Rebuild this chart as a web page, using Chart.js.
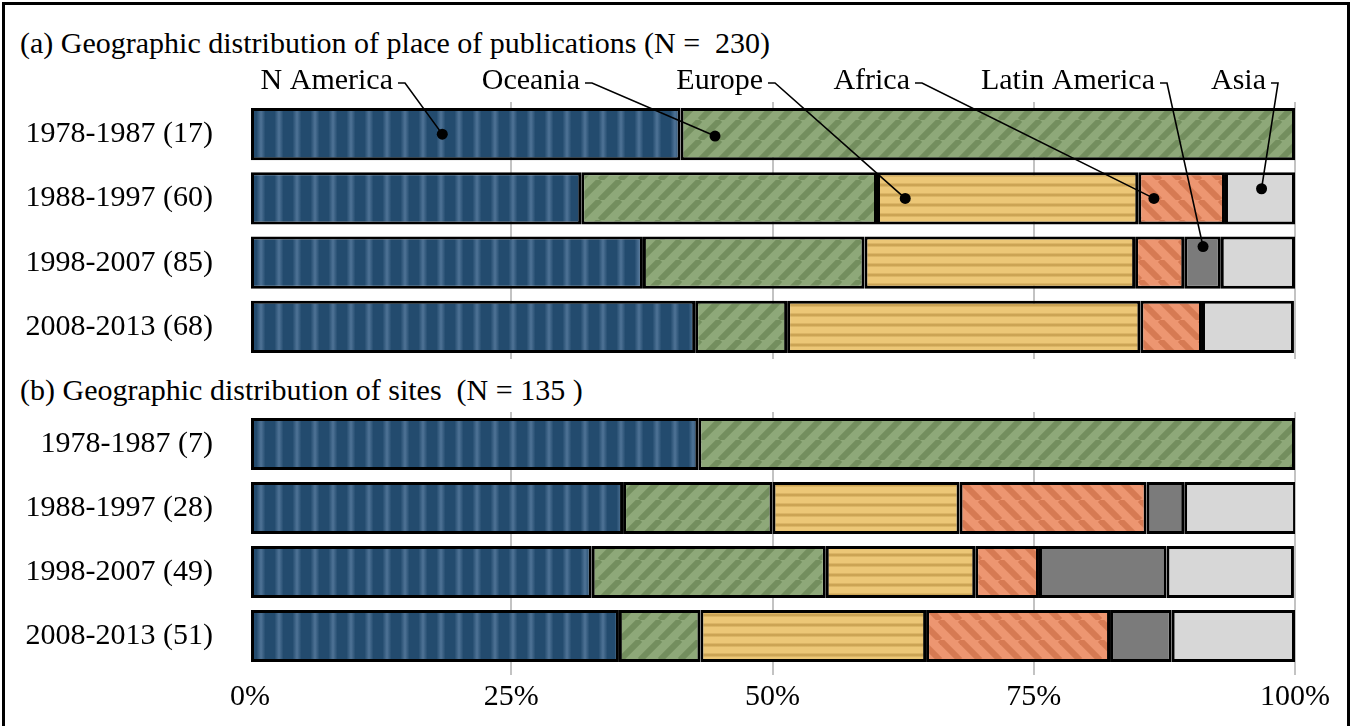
<!DOCTYPE html>
<html>
<head>
<meta charset="utf-8">
<script src="https://cdn.jsdelivr.net/npm/chart.js@4.4.1/dist/chart.umd.min.js"></script>
<style>
body { margin: 0; background: #fff; }
#wrap { position: relative; width: 1353px; height: 726px; overflow: hidden; }
#frame { position: absolute; left: 2px; top: 2px; width: 1342px; height: 740px; border: 3px solid #000; }
canvas { position: absolute; left: 0; top: 0; }
.ttl { position: absolute; font-family: "Liberation Serif", "Times New Roman", serif; font-size: 30px; color: #000; white-space: pre; line-height: 34px; }
</style>
</head>
<body>
<div id="wrap">
  <div id="frame"></div>
  <div class="ttl" style="left:20px;top:26px">(a) Geographic distribution of place of publications (N =  230)</div>
  <div class="ttl" style="left:20px;top:373px">(b) Geographic distribution of sites  (N = 135 )</div>
  <canvas id="chartA" width="1353" height="726"></canvas>
  <canvas id="chartB" width="1353" height="726"></canvas>
</div>
<script>
// categories
const regions = ['N America', 'Oceania', 'Europe', 'Africa', 'Latin America', 'Asia'];
const periodsPub = ['1978-1987 (17)', '1988-1997 (60)', '1998-2007 (85)', '2008-2013 (68)'];
const periodsSite = ['1978-1987 (7)', '1988-1997 (28)', '1998-2007 (49)', '2008-2013 (51)'];
const xTicks = [0, 25, 50, 75, 100];

// (a) place of publication, % of each period
const pubNAmerica = [41.2, 31.7, 37.6, 42.6];
const pubOceania  = [58.8, 28.3, 21.2, 8.8];
const pubEurope   = [0, 25.0, 25.9, 33.8];
const pubAfrica   = [0, 8.3, 4.7, 5.9];
const pubLatin    = [0, 0, 3.5, 0];
const pubAsia     = [0, 6.7, 7.1, 8.8];

// (b) sites, % of each period
const siteNAmerica = [42.9, 35.7, 32.7, 35.3];
const siteOceania  = [57.1, 14.3, 22.4, 7.8];
const siteEurope   = [0, 17.9, 14.3, 21.6];
const siteAfrica   = [0, 17.9, 6.1, 17.6];
const siteLatin    = [0, 3.6, 12.2, 5.9];
const siteAsia     = [0, 10.7, 12.2, 11.8];

// callouts in panel (a): where each region's dot sits (% value, row)
const calloutValue = [18.4, 44.5, 62.7, 86.5, 91.2, 96.8];
const calloutRow   = [0, 0, 1, 1, 2, 1];
const calloutShift = [0, 0.03, 0, 0, -0.25, -0.15];

const FONT = { family: '"Liberation Serif", "Times New Roman", serif', size: 30 };

// fill patterns
function makePattern(kind, base, stripe) {
    const c = document.createElement('canvas');
    const g = c.getContext('2d');
    if (kind === 'v' || kind === 'h') {
        const p = kind === 'v' ? 18 : 10;
        c.width = kind === 'v' ? p : 4;
        c.height = kind === 'v' ? 4 : p;
        const gr = kind === 'v' ? g.createLinearGradient(0, 0, p, 0) : g.createLinearGradient(0, 0, 0, p);
        gr.addColorStop(0, base);
        gr.addColorStop(0.25, base);
        gr.addColorStop(0.5, stripe);
        gr.addColorStop(0.75, base);
        gr.addColorStop(1, base);
        g.fillStyle = gr;
        g.fillRect(0, 0, c.width, c.height);
    } else {
        const p = 20;
        c.width = p; c.height = p;
        g.fillStyle = base;
        g.fillRect(0, 0, p, p);
        g.strokeStyle = stripe;
        g.lineWidth = 6;
        for (const o of [-p, 0, p]) {
            g.beginPath();
            if (kind === '/') { g.moveTo(o, p); g.lineTo(o + p, 0); }
            else { g.moveTo(o, 0); g.lineTo(o + p, p); }
            g.stroke();
        }
    }
    return g.createPattern(c, 'repeat');
}

const fills = [
    makePattern('v', '#234b6e', '#4f7396'),
    makePattern('/', '#8ea879', '#738e5e'),
    makePattern('h', '#ecc777', '#c39b4c'),
    makePattern('\\', '#ed9671', '#d67a53'),
    '#7b7b7b',
    '#d7d7d7'
];

function buildDatasets(series) {
    return series.map((d, i) => ({
        label: regions[i],
        data: d,
        backgroundColor: fills[i],
        borderColor: '#000',
        borderWidth: 3,
        borderSkipped: false,
        categoryPercentage: 1,
        barPercentage: 0.81
    }));
}

function buildOptions(showTicks, pad) {
    return {
        indexAxis: 'y',
        responsive: false,
        animation: false,
        layout: { padding: pad },
        plugins: { legend: { display: false }, tooltip: { enabled: false } },
        scales: {
            x: {
                stacked: true, min: 0, max: 100,
                afterBuildTicks: s => { s.ticks = xTicks.map(v => ({ value: v })); },
                afterFit: s => { s.height = showTicks ? 58 : 0; },
                grid: {
                    color: c => (c.tick && c.tick.value === 0) ? 'rgba(0,0,0,0)' : '#c3c3c3',
                    lineWidth: 2, drawTicks: showTicks, tickLength: 7
                },
                border: { display: false },
                ticks: { display: showTicks, font: FONT, color: '#000', padding: 4, callback: v => v + '%' }
            },
            y: {
                stacked: true,
                afterFit: s => { s.width = 250; },
                grid: { display: false, drawTicks: false },
                border: { display: false },
                ticks: { font: FONT, color: '#000', padding: 37 }
            }
        }
    };
}

// leader lines + dots for panel (a)
const labelRight = [393, 580, 763, 910, 1155, 1266];
const calloutPlugin = {
    id: 'callouts',
    afterDatasetsDraw(chart) {
        const ctx = chart.ctx;
        const xs = chart.scales.x, ys = chart.scales.y;
        const pitch = ys.getPixelForValue(1) - ys.getPixelForValue(0);
        ctx.save();
        ctx.font = FONT.size + 'px ' + FONT.family;
        ctx.fillStyle = '#000';
        ctx.strokeStyle = '#000';
        ctx.lineWidth = 1.6;
        ctx.textAlign = 'right';
        ctx.textBaseline = 'middle';
        regions.forEach((r, i) => {
            const tx = labelRight[i];
            const ty = 81;
            ctx.fillText(r, tx, ty);
            const px = xs.getPixelForValue(calloutValue[i]);
            const py = ys.getPixelForValue(calloutRow[i]) + calloutShift[i] * pitch;
            ctx.beginPath();
            ctx.moveTo(tx + 5, ty + 2);
            ctx.lineTo(tx + 12, ty + 2);
            ctx.lineTo(px, py);
            ctx.stroke();
            ctx.beginPath();
            ctx.arc(px, py, 5.5, 0, Math.PI * 2);
            ctx.fill();
        });
        ctx.restore();
    }
};

new Chart(document.getElementById('chartA'), {
    type: 'bar',
    data: {
        labels: periodsPub,
        datasets: buildDatasets([pubNAmerica, pubOceania, pubEurope, pubAfrica, pubLatin, pubAsia])
    },
    options: buildOptions(false, { left: 0, right: 58, top: 102, bottom: 367 }),
    plugins: [calloutPlugin]
});

new Chart(document.getElementById('chartB'), {
    type: 'bar',
    data: {
        labels: periodsSite,
        datasets: buildDatasets([siteNAmerica, siteOceania, siteEurope, siteAfrica, siteLatin, siteAsia])
    },
    options: buildOptions(true, { left: 0, right: 58, top: 412, bottom: 0 })
});
</script>
</body>
</html>
